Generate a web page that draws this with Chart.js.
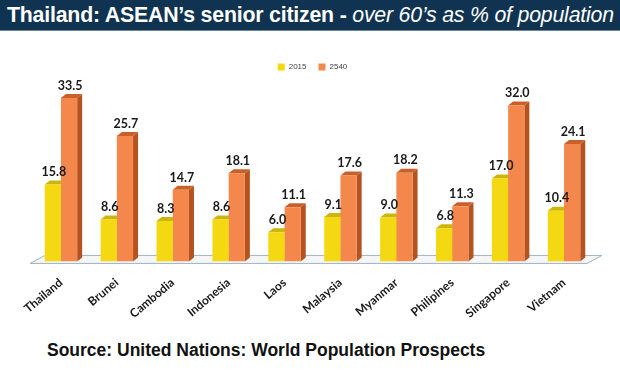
<!DOCTYPE html>
<html>
<head>
<meta charset="utf-8">
<script src="https://cdn.jsdelivr.net/npm/chart.js"></script>
<style>
  body { margin: 0; width: 620px; height: 370px; background: #fff; overflow: hidden; font-family: "Liberation Sans", Arial, sans-serif; }
  .title-bar { position: absolute; left: 0; top: 0; width: 620px; height: 30px; background: #0f3350; border-bottom: 1px solid #6b8799; color: #fff; font-size: 21.3px; font-weight: bold; line-height: 31px; white-space: nowrap; text-indent: 7px; letter-spacing: -0.2px; }
  .title-bar i { font-weight: normal; }
  .chart-parent { position: absolute; left: 0; top: 31px; width: 620px; height: 300px; }
  .source { position: absolute; left: 47px; top: 340px; white-space: nowrap; font-size: 17.5px; font-weight: bold; color: #111; }
</style>
</head>
<body>
<div class="title-bar">Thailand: ASEAN’s senior citizen - <i>over 60’s as % of population</i></div>
<div class="chart-parent"><canvas id="myChart"></canvas></div>
<div class="source">Source: United Nations: World Population Prospects</div>
<script>
const countries = ["Thailand", "Brunei", "Cambodia", "Indonesia", "Laos", "Malaysia", "Myanmar", "Philipines", "Singapore", "Vietnam"];
const values2015 = [15.8, 8.6, 8.3, 8.6, 6.0, 9.1, 9.0, 6.8, 17.0, 10.4];
const values2540 = [33.5, 25.7, 14.7, 18.1, 11.1, 17.6, 18.2, 11.3, 32.0, 24.1];

const DX = 5, DY = -4;
const sideColors = ["#b59c05", "#b4531f"];
const topColors = ["#cdb60a", "#c9602a"];

// floor and 3d faces, drawn under the bar fronts
const depth3d = {
  id: "depth3d",
  beforeDatasetsDraw(chart) {
    const c = chart.ctx, a = chart.chartArea;
    const yb = chart.scales.y.getPixelForValue(0);
    c.save();
    c.fillStyle = "#f4f6f8";
    c.strokeStyle = "#9fb3c4";
    c.lineWidth = 1;
    c.beginPath();
    c.moveTo(a.left - 3, yb + 2);
    c.lineTo(a.right - 5, yb + 2);
    c.lineTo(a.right + 10, yb - 6);
    c.lineTo(a.left + 12, yb - 6);
    c.closePath();
    c.fill();
    c.stroke();
    chart.data.datasets.forEach((ds, di) => {
      chart.getDatasetMeta(di).data.forEach(bar => {
        const l = bar.x - bar.width / 2, r = bar.x + bar.width / 2;
        c.fillStyle = sideColors[di];
        c.beginPath();
        c.moveTo(r, bar.y);
        c.lineTo(r + DX, bar.y + DY);
        c.lineTo(r + DX, bar.base + DY);
        c.lineTo(r, bar.base);
        c.closePath();
        c.fill();
        c.fillStyle = topColors[di];
        c.beginPath();
        c.moveTo(l, bar.y);
        c.lineTo(l + DX, bar.y + DY);
        c.lineTo(r + DX, bar.y + DY);
        c.lineTo(r, bar.y);
        c.closePath();
        c.fill();
      });
    });
    c.restore();
  },
  afterDatasetsDraw(chart) {
    const c = chart.ctx;
    c.save();
    c.font = "bold 12.5px Lato, 'Open Sans', sans-serif";
    c.fillStyle = "#1a1a1a";
    c.textAlign = "center";
    c.textBaseline = "bottom";
    chart.data.datasets.forEach((ds, di) => {
      chart.getDatasetMeta(di).data.forEach((bar, i) => {
        c.fillText(ds.data[i].toFixed(1), bar.x + 1, bar.y - 6);
      });
    });
    c.restore();
  }
};

new Chart(document.getElementById("myChart"), {
  type: "bar",
  data: {
    labels: countries,
    datasets: [
      { label: "2015", data: values2015, backgroundColor: "#f3d812", categoryPercentage: 0.58, barPercentage: 1 },
      { label: "2540", data: values2540, backgroundColor: "#f4874b", categoryPercentage: 0.58, barPercentage: 1 }
    ]
  },
  options: {
    responsive: true,
    maintainAspectRatio: false,
    animation: false,
    layout: { padding: { left: 33, right: 28, top: 20, bottom: 4 } },
    plugins: {
      legend: {
        labels: { boxWidth: 7, boxHeight: 7, font: { size: 8 }, color: "#444", padding: 12 }
      },
      tooltip: { enabled: false }
    },
    scales: {
      x: {
        grid: { display: false },
        border: { display: false },
        ticks: { minRotation: 40, maxRotation: 40, color: "#1a1a1a", font: { size: 12, weight: "bold", family: "Lato" }, padding: 6 }
      },
      y: { display: false, min: 0, max: 37 }
    }
  },
  plugins: [depth3d]
});
</script>
</body>
</html>
